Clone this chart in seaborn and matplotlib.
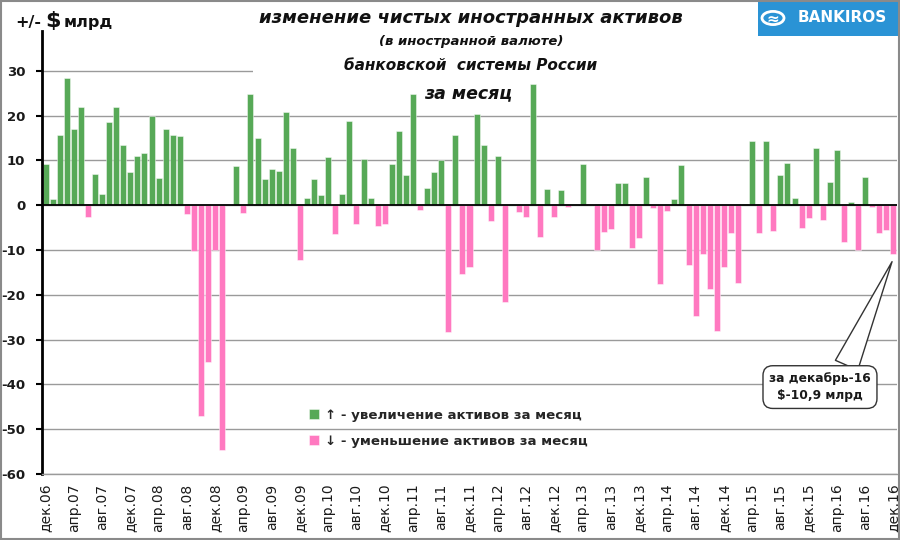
import matplotlib
matplotlib.use("Agg")
import matplotlib.pyplot as plt
import matplotlib.transforms as mtransforms
from matplotlib.patches import Rectangle, Circle
import pandas as pd
import seaborn as sns

# ---- data (billion USD, monthly change, Dec 2006 .. Dec 2016) ----
values = [
    9.3, 1.3, 15.7, 28.4, 17.1, 22.0, -2.7, 7.0, 2.5, 18.5,
    22.0, 13.5, 7.4, 11.0, 11.7, 19.9, 6.0, 16.9, 15.7, 15.4,
    -2.0, -10.2, -47.1, -34.9, -9.9, -54.7, 0.0, 8.8, -1.8, 24.8,
    15.0, 5.9, 8.1, 7.6, 20.7, 12.7, -12.2, 1.7, 5.9, 2.3,
    10.8, -6.5, 2.5, 18.9, -4.2, 10.4, 1.7, -4.75, -4.2, 9.1,
    16.6, 6.8, 24.9, -1.0, 3.9, 7.4, 10.0, -28.2, 15.7, -15.3,
    -13.9, 20.3, 13.4, -3.6, 11.0, -21.7, 0.2, -1.6, -2.7, 27.1,
    -7.1, 3.6, -2.7, 3.4, -0.3, 0.0, 9.1, 0.0, -10.1, -5.9,
    -5.4, 4.9, 4.9, -9.65, -7.3, 6.4, -0.7, -17.7, -1.2, 1.3,
    8.9, -13.4, -24.8, -10.9, -18.8, -28.0, -13.9, -6.1, -17.3, 0.3,
    14.4, -6.1, 14.25, -5.7, 6.75, 9.35, 1.5, -5.2, -2.9, 12.7,
    -3.3, 5.1, 12.3, -8.2, 0.7, -9.9, 6.4, -0.3, -6.1, -5.6,
    -10.9,
]
month_names = ['янв', 'фев', 'мар', 'апр', 'май', 'июн',
               'июл', 'авг', 'сен', 'окт', 'ноя', 'дек']
months = [f"{month_names[(11 + i) % 12]}.{6 + (11 + i) // 12:02d}"
          for i in range(len(values))]
tick_labels = [
    "дек.06", "апр.07", "авг.07", "дек.07", "апр.08", "авг.08", "дек.08",
    "апр.09", "авг.09", "дек.09", "апр.10", "авг.10", "дек.10", "апр.11",
    "авг.11", "дек.11", "апр.12", "авг.12", "дек.12", "апр.13", "авг.13",
    "дек.13", "апр.14", "авг.14", "дек.14", "апр.15", "авг.15", "дек.15",
    "апр.16", "авг.16", "дек.16",
]
label_up = "↑ - увеличение активов за месяц"
label_down = "↓ - уменьшение активов за месяц"
y_ticks = [-60, -50, -40, -30, -20, -10, 0, 10, 20, 30]

GREEN = "#57a957"
PINK = "#ff79c0"

sns.set_theme(style="white")
plt.rcParams['font.family'] = ['DejaVu Sans']

df = pd.DataFrame({
    'month': months,
    'value': values,
    'kind': [label_up if v >= 0 else label_down for v in values],
})

fig = plt.figure(figsize=(9, 5.4), dpi=100)
fig.patch.set_facecolor('white')
ax = fig.add_axes([42 / 900, 1 - 474 / 540, 855 / 900, (474 - 26) / 540])

sns.barplot(data=df, x='month', y='value', hue='kind',
            hue_order=[label_up, label_down], palette=[GREEN, PINK],
            dodge=False, width=0.85, saturation=1, ax=ax,
            edgecolor=(1, 1, 1, 0.45), linewidth=0.7)

ax.set_xlim(-0.5, len(values) - 0.5)
ax.set_ylim(-60, 40)
ax.set_yticks(y_ticks)
ax.set_yticklabels([str(t) for t in y_ticks], fontsize=9.5, fontweight='bold',
                   color='#1a1a1a')
ax.set_xticks(range(0, len(values), 4))
ax.set_xticklabels(tick_labels, rotation=90, fontsize=10, color='#1a1a1a')
ax.set_xlabel('')
ax.set_ylabel('')
ax.tick_params(axis='x', length=0, pad=7)
ax.tick_params(axis='y', length=4, width=1.5, color='black', pad=8, left=True)

ax.set_axisbelow(True)
ax.yaxis.grid(True, color='#9a9a9a', lw=1)
ax.xaxis.grid(False)
for s in ['top', 'right']:
    ax.spines[s].set_visible(False)
ax.spines['bottom'].set_color('#9a9a9a')
ax.spines['bottom'].set_linewidth(1)
ax.spines['left'].set_color('black')
ax.spines['left'].set_linewidth(2)
ax.spines['left'].set_bounds(-60, 38.8)
ax.axhline(0, color='black', lw=1.3, zorder=3)

# white title area hiding the upper gridline
trans = mtransforms.blended_transform_factory(ax.transAxes, ax.transData)
ax.add_patch(Rectangle((0.2468, 23), 0.76, 20, transform=trans,
                       fc='white', ec='none', zorder=0.8, clip_on=False))

# legend
h, l = ax.get_legend_handles_labels()
ax.legend(h, l, loc='upper left', bbox_to_anchor=(302 / 900, 1 - 402 / 540),
          bbox_transform=fig.transFigure, frameon=False, handlelength=0.75,
          handleheight=0.75, handletextpad=0.45, labelspacing=1.0,
          borderpad=0, prop=dict(weight='bold', size=9.6))

# callout
ax.annotate("за декабрь-16\n$-10,9 млрд".replace('$', r'\$'),
            xy=(len(values) - 1 - 0.2, -12.6), xytext=(109.6, -40.6),
            textcoords='data', ha='center', va='center', fontsize=8.8,
            fontweight='bold', color='#1a1a1a', linespacing=1.45,
            bbox=dict(boxstyle='round,pad=0.5,rounding_size=0.8', fc='white',
                      ec='#333333', lw=1),
            arrowprops=dict(arrowstyle='wedge,tail_width=2.2',
                            mutation_scale=8, fc='white', ec='#333333',
                            lw=1, relpos=(0.72, 0.9), shrinkA=0, shrinkB=0),
            zorder=5)

# titles
tc = '#111111'
fig.text(471 / 900, 1 - 18 / 540, "изменение чистых иностранных активов",
         ha='center', va='center', fontsize=13, fontweight='bold',
         style='italic', color=tc)
fig.text(471 / 900, 1 - 42 / 540, "(в иностранной валюте)", ha='center',
         va='center', fontsize=9.5, fontweight='bold', style='italic', color=tc)
fig.text(471 / 900, 1 - 65 / 540, "банковской  системы России", ha='center',
         va='center', fontsize=11, fontweight='bold', style='italic', color=tc)
fig.text(468 / 900, 1 - 93 / 540, "за месяц", ha='center', va='center',
         fontsize=12.5, fontweight='bold', style='italic', color=tc)

# axis unit label
fig.text(15 / 900, 1 - 27 / 540, "+/-", ha='left', va='baseline',
         fontsize=11.5, fontweight='bold', color=tc)
fig.text(45 / 900, 1 - 27 / 540, r"\$", ha='left', va='baseline',
         fontsize=16, fontweight='bold', color=tc)
fig.text(64 / 900, 1 - 27 / 540, "млрд", ha='left', va='baseline',
         fontsize=11.5, fontweight='bold', color=tc)

# logo
fig.add_artist(Rectangle((758 / 900, 1 - 36 / 540), 142 / 900, 36 / 540,
                         transform=fig.transFigure, fc='#2a93d5', ec='none'))
fig.add_artist(Circle((773 / 900, 1 - 18 / 540), 11 / 900,
                      transform=fig.transFigure, fill=False, ec='white', lw=2))
fig.text(773 / 900, 1 - 19 / 540, "≈", ha='center', va='center', fontsize=11,
         fontweight='bold', color='white')
fig.text(842 / 900, 1 - 18 / 540, "BANKIROS", ha='center', va='center',
         fontsize=11, fontweight='bold', color='white')

# chart border
fig.add_artist(Rectangle((0.001, 0.001), 0.998, 0.998, transform=fig.transFigure,
                         fill=False, ec='#8a8a8a', lw=1.5))

fig.savefig("out.png", dpi=100)
